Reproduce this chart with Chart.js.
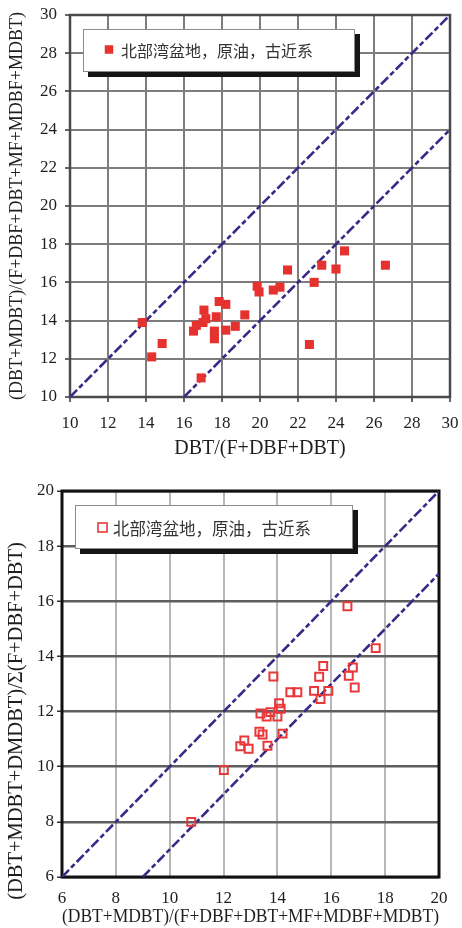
<!DOCTYPE html>
<html>
<head>
<meta charset="utf-8">
<script src="https://cdn.jsdelivr.net/npm/chart.js@4.4.1/dist/chart.umd.min.js"></script>
<style>
  body { margin: 0; background: #fff; }
  #topChart { position: absolute; left: 0; top: 0; }
  #bottomChart { position: absolute; left: 0; top: 460px; }
</style>
</head>
<body>
<canvas id="topChart" width="462" height="460"></canvas>
<canvas id="bottomChart" width="462" height="468"></canvas>
<script>
const SERIES_LABEL = '北部湾盆地，原油，古近系';

// upper plot: DBT/(F+DBF+DBT) vs (DBT+MDBT)/(F+DBF+DBT+MF+MDBF+MDBT)
const topX = [13.8, 14.3, 14.85, 16.5, 16.65, 16.9, 17.0, 17.05, 17.15, 17.6, 17.6, 17.7, 17.85, 18.2,
  18.2, 18.7, 19.2, 19.85, 19.95, 20.7, 21.05, 21.45, 22.6, 22.85, 23.25, 24.0, 24.45, 26.6];
const topY = [13.9, 12.1, 12.8, 13.45, 13.75, 11.0, 13.9, 14.55, 14.1, 13.45, 13.05, 14.2, 15.0, 14.85,
  13.5, 13.7, 14.3, 15.8, 15.5, 15.6, 15.75, 16.65, 12.75, 16.0, 16.9, 16.7, 17.65, 16.9];
const topTicks = [10, 12, 14, 16, 18, 20, 22, 24, 26, 28, 30];
const topUpperLineX = [10, 30];
const topUpperLineY = [10, 30];
const topLowerLineX = [16, 30];
const topLowerLineY = [10, 24];

// lower plot: (DBT+MDBT)/(F+DBF+DBT+MF+MDBF+MDBT) vs (DBT+MDBT+DMDBT)/Σ(F+DBF+DBT)
const botX = [16.6, 17.65, 15.7, 15.55, 16.8, 16.65, 16.87, 13.85, 14.48, 14.74, 15.36, 15.89, 15.6, 14.06,
  14.12, 13.37, 13.74, 13.6, 14.0, 13.33, 13.45, 14.19, 12.77, 12.62, 12.93, 13.63, 12.01, 10.8];
const botY = [15.82, 14.3, 13.65, 13.26, 13.6, 13.3, 12.87, 13.27, 12.7, 12.7, 12.75, 12.75, 12.45, 12.3,
  12.1, 11.93, 11.98, 11.82, 11.82, 11.27, 11.17, 11.2, 10.95, 10.74, 10.65, 10.76, 9.88, 8.0];
const botTicks = [6, 8, 10, 12, 14, 16, 18, 20];
const botUpperLineX = [6, 20];
const botUpperLineY = [6, 20];
const botLowerLineX = [9, 20];
const botLowerLineY = [6, 17];

const LINE_COLOR = '#3a2986';
const RED = '#e6322f';
const TEXT = '#1e1e1e';
const SERIF = "'Liberation Serif', 'Times New Roman', serif";

function zip(xs, ys) {
  return xs.map((x, i) => ({ x: x, y: ys[i] }));
}

function refLine(xs, ys) {
  return {
    type: 'line',
    data: zip(xs, ys),
    borderColor: LINE_COLOR,
    borderWidth: 2.6,
    borderDash: [10, 3, 5, 3],
    pointRadius: 0,
    fill: false,
    order: 2,
  };
}

/** boxed legend with a drop shadow, drawn over the grid */
const boxLegend = {
  id: 'boxLegend',
  afterDatasetsDraw(chart, args, o) {
    const { ctx } = chart;
    const ds = chart.data.datasets[0];
    ctx.save();
    ctx.fillStyle = '#151515';
    ctx.fillRect(o.x + o.shadow, o.y + o.shadow, o.w, o.h);
    ctx.fillStyle = '#fff';
    ctx.fillRect(o.x, o.y, o.w, o.h);
    ctx.strokeStyle = '#8c8c8c';
    ctx.lineWidth = 1;
    ctx.strokeRect(o.x + 0.5, o.y + 0.5, o.w - 1, o.h - 1);
    const s = o.marker;
    if (o.hollow) {
      ctx.strokeStyle = ds.borderColor;
      ctx.lineWidth = 1.6;
      ctx.strokeRect(o.mx - s / 2, o.my - s / 2, s, s);
    } else {
      ctx.fillStyle = ds.backgroundColor;
      ctx.fillRect(o.mx - s / 2, o.my - s / 2, s, s);
    }
    ctx.fillStyle = '#333';
    ctx.font = o.fontSize + "px 'Noto Sans CJK SC', sans-serif";
    ctx.textBaseline = 'middle';
    ctx.fillText(ds.label, o.tx, o.my + 1);
    ctx.restore();
  },
};

/** full rectangular frame around the plot area */
const plotFrame = {
  id: 'plotFrame',
  beforeDatasetsDraw(chart, args, o) {
    const { ctx, chartArea: a } = chart;
    ctx.save();
    ctx.strokeStyle = o.color;
    ctx.lineWidth = o.width;
    ctx.strokeRect(a.left, a.top, a.right - a.left, a.bottom - a.top);
    ctx.restore();
  },
};

/** rotated y title that sits lower than the axis centre */
const sideTitle = {
  id: 'sideTitle',
  afterDraw(chart, args, o) {
    if (!o.text) return;
    const { ctx } = chart;
    ctx.save();
    ctx.translate(o.x, o.y);
    ctx.rotate(-Math.PI / 2);
    ctx.font = o.size + 'px ' + SERIF;
    ctx.fillStyle = TEXT;
    ctx.textAlign = 'center';
    ctx.textBaseline = 'middle';
    ctx.fillText(o.text, 0, 0);
    ctx.restore();
  },
};

function axis(ticksList, opts) {
  return {
    type: 'linear',
    min: ticksList[0],
    max: ticksList[ticksList.length - 1],
    afterBuildTicks: (scale) => { scale.ticks = ticksList.map((v) => ({ value: v })); },
    afterFit: (s) => {
      opts.fit(s);
      // keep the plot area where the layout padding puts it
      s.paddingLeft = s.paddingRight = s.paddingTop = s.paddingBottom = 0;
    },
    ticks: { color: TEXT, font: { family: SERIF, size: 17 }, padding: opts.tickPad, maxRotation: 0 },
    grid: {
      color: opts.gridColor,
      lineWidth: opts.gridWidth,
      drawTicks: opts.drawTicks,
      tickLength: 5,
      tickColor: '#333',
      tickWidth: 1.5,
    },
    border: { display: false },
    title: {
      display: !!opts.title,
      text: opts.title || '',
      color: TEXT,
      font: { family: SERIF, size: opts.titleSize, lineHeight: 1 },
      padding: opts.titlePad,
    },
  };
}

Chart.defaults.devicePixelRatio = 1;
Chart.defaults.animation = false;

new Chart(document.getElementById('topChart'), {
  type: 'scatter',
  data: {
    datasets: [
      {
        label: SERIES_LABEL,
        data: zip(topX, topY),
        pointStyle: 'rect',
        pointRadius: 6.4,
        backgroundColor: RED,
        borderColor: RED,
        borderWidth: 0,
        order: 1,
      },
      refLine(topUpperLineX, topUpperLineY),
      refLine(topLowerLineX, topLowerLineY),
    ],
  },
  options: {
    responsive: false,
    layout: { padding: { top: 15, right: 12, left: 0, bottom: 0 } },
    plugins: {
      legend: { display: false },
      tooltip: { enabled: false },
      plotFrame: { color: '#4a4a4a', width: 2.5 },
      boxLegend: { x: 83, y: 29, w: 272, h: 43, shadow: 5, marker: 8.5, mx: 109, my: 49.5, tx: 121, fontSize: 16 },
    },
    scales: {
      x: axis(topTicks, {
        fit: (s) => { s.height = 63; },
        tickPad: 11, gridColor: '#7d7d7d', gridWidth: 2, drawTicks: true,
        title: 'DBT/(F+DBF+DBT)', titleSize: 20, titlePad: { top: 0, bottom: 1 },
      }),
      y: axis(topTicks, {
        fit: (s) => { s.width = 70; },
        tickPad: 8, gridColor: '#7d7d7d', gridWidth: 2, drawTicks: true,
        title: '(DBT+MDBT)/(F+DBF+DBT+MF+MDBF+MDBT)', titleSize: 18, titlePad: { top: 8, bottom: 0 },
      }),
    },
  },
  plugins: [plotFrame, boxLegend],
});

new Chart(document.getElementById('bottomChart'), {
  type: 'scatter',
  data: {
    datasets: [
      {
        label: SERIES_LABEL,
        data: zip(botX, botY),
        pointStyle: 'rect',
        pointRadius: 5.6,
        backgroundColor: 'rgba(255,255,255,0)',
        borderColor: '#e8383a',
        borderWidth: 2,
        order: 1,
      },
      refLine(botUpperLineX, botUpperLineY),
      refLine(botLowerLineX, botLowerLineY),
    ],
  },
  options: {
    responsive: false,
    layout: { padding: { top: 31, right: 23, left: 0, bottom: 0 } },
    plugins: {
      legend: { display: false },
      tooltip: { enabled: false },
      plotFrame: { color: '#111', width: 3 },
      boxLegend: { x: 75, y: 45, w: 278, h: 44, shadow: 5, marker: 9, mx: 102.5, my: 67.5, tx: 113, fontSize: 16.5, hollow: true },
      sideTitle: { text: '(DBT+MDBT+DMDBT)/Σ(F+DBF+DBT)', x: 17, y: 261, size: 20.5 },
    },
    scales: {
      x: axis(botTicks, {
        fit: (s) => { s.height = 51; },
        tickPad: 11, gridColor: '#b9b6b6', gridWidth: 2, drawTicks: false,
        title: '(DBT+MDBT)/(F+DBF+DBT+MF+MDBF+MDBT)', titleSize: 19.5, titlePad: { top: 0, bottom: 1 },
      }),
      y: axis(botTicks, {
        fit: (s) => { s.width = 62; },
        tickPad: 3, gridColor: '#5e5e5e', gridWidth: 2.5, drawTicks: true,
        title: null,
      }),
    },
  },
  plugins: [plotFrame, boxLegend, sideTitle],
});
</script>
</body>
</html>
